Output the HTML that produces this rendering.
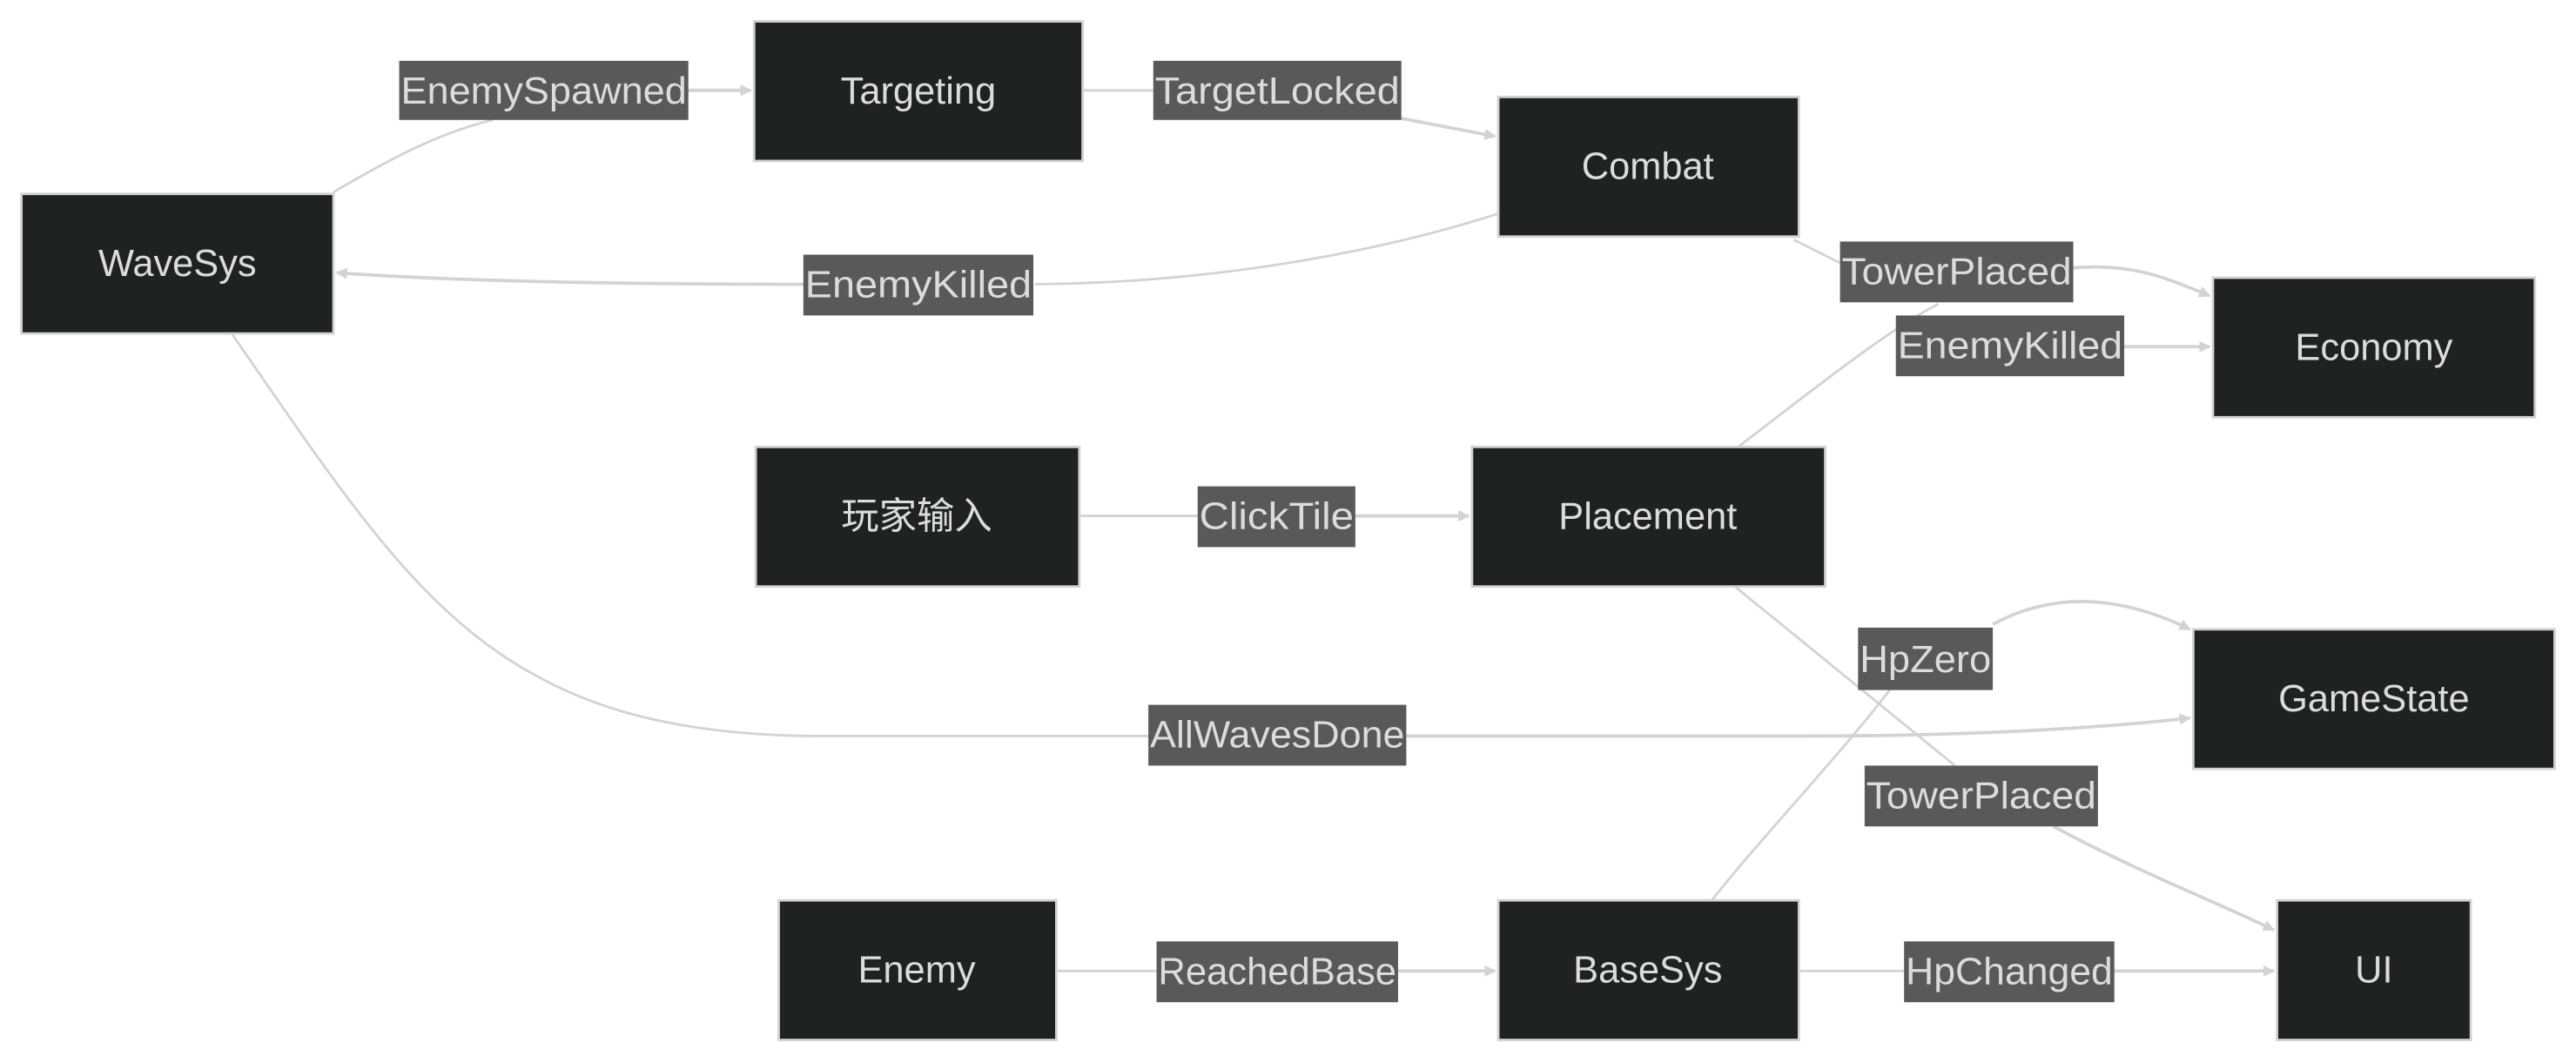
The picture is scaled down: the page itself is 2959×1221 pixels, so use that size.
<!DOCTYPE html>
<html><head><meta charset="utf-8">
<style>
html,body{margin:0;padding:0;background:#fff;}
svg{display:block;}
text{font-family:"Liberation Sans","Noto Sans CJK SC",sans-serif;fill:#dcdcdc;}
</style></head>
<body>
<svg width="2959" height="1221" viewBox="0 0 1568 647" xmlns="http://www.w3.org/2000/svg">
<defs>
<marker id="a" viewBox="0 0 10 10" refX="9" refY="5" markerWidth="7" markerHeight="7" markerUnits="userSpaceOnUse" orient="auto">
<path d="M0,0 L10,5 L0,10 z" fill="#d3d3d3"/>
</marker>
</defs>
<g fill="none" stroke="#d3d3d3" stroke-width="1.5">
<path d="M203,117 C240,95 270,80 300,73"/>
<path d="M419,55 L457,55" marker-end="url(#a)" stroke-width="2"/>
<path d="M659,55 L702,55"/>
<path d="M853,72 L910,83" marker-end="url(#a)" stroke-width="2"/>
<path d="M912,130 C850,150 750,172 630,173"/>
<path d="M490,173 C350,173 260,170 205,166" marker-end="url(#a)" stroke-width="2"/>
<path d="M1092,146 L1120,160"/>
<path d="M1262,163 C1300,160 1320,170 1345,180" marker-end="url(#a)" stroke-width="2"/>
<path d="M1058,272 C1100,240 1150,200 1180,185"/>
<path d="M1293,211 L1345,211" marker-end="url(#a)" stroke-width="2"/>
<path d="M657,314 L729,314"/>
<path d="M825,314 L894,314" marker-end="url(#a)" stroke-width="2"/>
<path d="M141,203 C250,360 300,448 500,448 L699,448"/>
<path d="M856,448 L1100,448 C1200,448 1280,443 1333,437" marker-end="url(#a)" stroke-width="2"/>
<path d="M1042,548 C1080,500 1130,450 1165,400"/>
<path d="M1213,380 C1250,360 1290,362 1333,383" marker-end="url(#a)" stroke-width="2"/>
<path d="M1056,357 L1190,466"/>
<path d="M1250,503 C1300,530 1340,545 1384,566" marker-end="url(#a)" stroke-width="2"/>
<path d="M643,591 L704,591"/>
<path d="M851,591 L910,591" marker-end="url(#a)" stroke-width="2"/>
<path d="M1095,591 L1159,591"/>
<path d="M1287,591 L1384,591" marker-end="url(#a)" stroke-width="2"/>
</g>
<g fill="#202221" stroke="#d3d3d3" stroke-width="1.5">
<rect x="459" y="13" width="200" height="85"/>
<rect x="912" y="59" width="183" height="85"/>
<rect x="13" y="118" width="190" height="85"/>
<rect x="1347" y="169" width="196" height="85"/>
<rect x="460" y="272" width="197" height="85"/>
<rect x="896" y="272" width="215" height="85"/>
<rect x="1335" y="383" width="220" height="85"/>
<rect x="474" y="548" width="169" height="85"/>
<rect x="912" y="548" width="183" height="85"/>
<rect x="1386" y="548" width="118" height="85"/>
</g>
<g font-size="23" text-anchor="middle">
<text x="559" y="63">Targeting</text>
<text x="1003" y="109">Combat</text>
<text x="108" y="168">WaveSys</text>
<text x="1445" y="219">Economy</text>
<text x="558" y="322">玩家输入</text>
<text x="1003" y="322">Placement</text>
<text x="1445" y="433">GameState</text>
<text x="558" y="598">Enemy</text>
<text x="1003" y="598">BaseSys</text>
<text x="1445" y="598">UI</text>
</g>
<g fill="#595959">
<rect x="243" y="37" width="176" height="36"/>
<rect x="702" y="37" width="151" height="36"/>
<rect x="489" y="155" width="140" height="37"/>
<rect x="1120" y="147" width="142" height="37"/>
<rect x="1154" y="192" width="139" height="37"/>
<rect x="729" y="296" width="96" height="37"/>
<rect x="1131" y="382" width="82" height="38"/>
<rect x="699" y="429" width="157" height="37"/>
<rect x="1135" y="466" width="142" height="37"/>
<rect x="704" y="573" width="147" height="37"/>
<rect x="1159" y="573" width="128" height="37"/>
</g>
<g font-size="23" lengthAdjust="spacingAndGlyphs">
<text x="244" y="63" textLength="174" lengthAdjust="spacingAndGlyphs">EnemySpawned</text>
<text x="703" y="63" textLength="149" lengthAdjust="spacingAndGlyphs">TargetLocked</text>
<text x="490" y="181" textLength="138" lengthAdjust="spacingAndGlyphs">EnemyKilled</text>
<text x="1121" y="173" textLength="140" lengthAdjust="spacingAndGlyphs">TowerPlaced</text>
<text x="1155" y="218" textLength="137" lengthAdjust="spacingAndGlyphs">EnemyKilled</text>
<text x="730" y="322" textLength="94" lengthAdjust="spacingAndGlyphs">ClickTile</text>
<text x="1132" y="409" textLength="80" lengthAdjust="spacingAndGlyphs">HpZero</text>
<text x="700" y="455" textLength="155" lengthAdjust="spacingAndGlyphs">AllWavesDone</text>
<text x="1136" y="492" textLength="140" lengthAdjust="spacingAndGlyphs">TowerPlaced</text>
<text x="705" y="599" textLength="145" lengthAdjust="spacingAndGlyphs">ReachedBase</text>
<text x="1160" y="599" textLength="126" lengthAdjust="spacingAndGlyphs">HpChanged</text>
</g>
</svg>
</body></html>
